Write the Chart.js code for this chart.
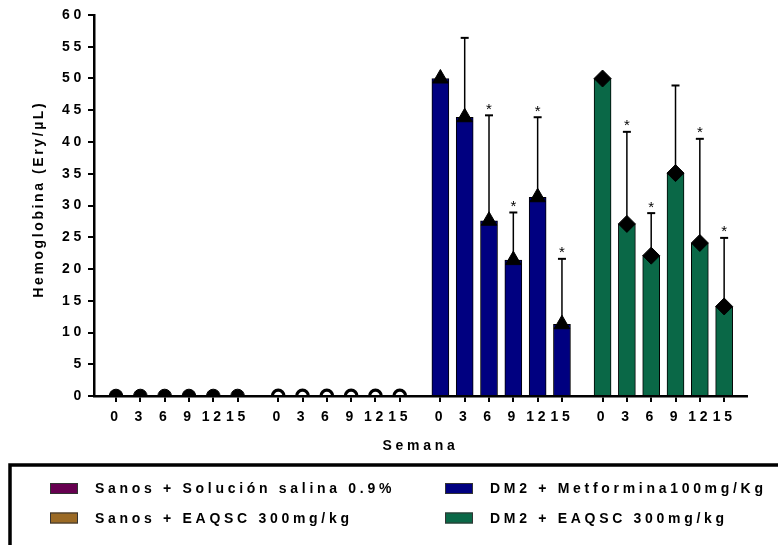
<!DOCTYPE html>
<html>
<head>
<meta charset="utf-8">
<script src="https://cdn.jsdelivr.net/npm/chart.js@4/dist/chart.umd.min.js"></script>
<style>
  html, body { margin: 0; padding: 0; background: #fff; }
  canvas { display: block; }
</style>
</head>
<body>
<canvas id="chart" width="778" height="545"></canvas>
<script>
// Weeks of treatment, shown under each bar
const weeks = ['0', '3', '6', '9', '12', '15'];

// Treatment groups
const groupNames = [
  'Sanos + Solución salina 0.9%',
  'Sanos + EAQSC 300mg/kg',
  'DM2 + Metformina100mg/Kg',
  'DM2 + EAQSC 300mg/kg'
];

// Hemoglobina (Ery/µL) means per week
const salina      = [0, 0, 0, 0, 0, 0];
const sanosEaqsc  = [0, 0, 0, 0, 0, 0];
const metformina  = [50, 43.9, 27.6, 21.4, 31.3, 11.3];
const dm2Eaqsc    = [50, 27.1, 22.1, 35.1, 24.1, 14.1];

// Upper error (SD) per week
const metforminaErr = [0, 12.5, 16.6, 7.5, 12.6, 10.3];
const dm2EaqscErr   = [0, 14.5, 6.7, 13.8, 16.4, 10.8];

// Significance marks (*)
const metforminaSig = [false, false, true, true, true, true];
const dm2EaqscSig   = [false, true, true, false, true, true];

// Y axis ticks
const yTicks = [0, 5, 10, 15, 20, 25, 30, 35, 40, 45, 50, 55, 60];

const yTitle = 'Hemoglobina (Ery/µL)';
const xTitle = 'Semana';

const FONT = "'Liberation Sans', Arial, sans-serif";
const LETTER_SPACING = '3.7px';
const GROUP_STRIDE = 6.67;   // spacing between the start of consecutive groups, in bar slots

const colors = ['#660050', '#9b6a25', '#000080', '#0a6847'];

const positions = g => weeks.map((_, i) => g * GROUP_STRIDE + i);
const allTicks = [0, 1, 2, 3].flatMap(positions);

function barSet(label, values, color, g, extra) {
  return Object.assign({
    type: 'bar',
    label,
    data: positions(g).map((x, i) => ({ x, y: values[i] })),
    backgroundColor: color,
    borderColor: '#000',
    borderWidth: 1,
    barThickness: 17,
    grouped: false,
    order: 3
  }, extra || {});
}

function markerSet(values, g, style) {
  return Object.assign({
    type: 'line',
    showLine: false,
    data: positions(g).map((x, i) => ({ x, y: values[i] })),
    pointBackgroundColor: '#000',
    pointBorderColor: '#000',
    pointBorderWidth: 1,
    order: 1
  }, style);
}

// Canvas letter spacing for all chart text
const spacingPlugin = {
  id: 'spacing',
  beforeLayout(chart) { chart.ctx.letterSpacing = LETTER_SPACING; },
  beforeDraw(chart) { chart.ctx.letterSpacing = LETTER_SPACING; }
};

// Upper error bars and significance asterisks
const errorBarPlugin = {
  id: 'errorBars',
  afterDatasetDraw(chart, args) {
    const ds = chart.data.datasets[args.index];
    if (!ds.errors) return;
    const { ctx, scales: { x, y } } = chart;
    ctx.save();
    ctx.letterSpacing = '0px';
    ctx.strokeStyle = '#000';
    ctx.fillStyle = '#000';
    ds.data.forEach((p, i) => {
      const e = ds.errors[i];
      const px = x.getPixelForValue(p.x);
      const base = y.getPixelForValue(p.y);
      const top = y.getPixelForValue(p.y + e);
      if (e > 0) {
        ctx.lineWidth = 1.5;
        ctx.beginPath();
        ctx.moveTo(px, base);
        ctx.lineTo(px, top);
        ctx.stroke();
        ctx.lineWidth = 2;
        ctx.beginPath();
        ctx.moveTo(px - 4, top);
        ctx.lineTo(px + 4, top);
        ctx.stroke();
      }
      if (ds.sig[i]) {
        ctx.font = '15px ' + FONT;
        ctx.textAlign = 'center';
        ctx.textBaseline = 'alphabetic';
        ctx.fillText('*', px, top - 1.5);
      }
    });
    ctx.restore();
  }
};

// Rotated y-axis title with its own tighter spacing
const yTitlePlugin = {
  id: 'yTitle',
  afterDraw(chart) {
    const ctx = chart.ctx;
    const area = chart.chartArea;
    ctx.save();
    ctx.letterSpacing = '2.6px';
    ctx.font = 'bold 14px ' + FONT;
    ctx.fillStyle = '#000';
    ctx.textAlign = 'center';
    ctx.textBaseline = 'middle';
    ctx.translate(39, (area.top + area.bottom) / 2 - 5);
    ctx.rotate(-Math.PI / 2);
    ctx.fillText(yTitle, 1.3, 0);
    ctx.restore();
  }
};

// Boxed legend in two columns below the axis
const boxLegendPlugin = {
  id: 'boxLegend',
  afterDraw(chart) {
    const ctx = chart.ctx;
    const bars = chart.data.datasets.filter(d => d.type === 'bar');
    ctx.save();
    ctx.lineWidth = 3.5;
    ctx.strokeStyle = '#000';
    ctx.strokeRect(10, 465, 800, 120);
    ctx.font = 'bold 14px ' + FONT;
    ctx.letterSpacing = LETTER_SPACING;
    ctx.textBaseline = 'middle';
    ctx.textAlign = 'left';
    bars.forEach((d, k) => {
      const col = Math.floor(k / 2), row = k % 2;
      const sx = 50 + col * 395;
      const cy = 488 + row * 29.5;
      ctx.fillStyle = d.backgroundColor;
      ctx.fillRect(sx, cy - 5, 28, 11);
      ctx.lineWidth = 1;
      ctx.strokeStyle = '#333';
      ctx.strokeRect(sx + 0.5, cy - 4.5, 27, 10);
      ctx.fillStyle = '#000';
      ctx.fillText(d.label, sx + 45, cy + 1.5);
    });
    ctx.restore();
  }
};

const axisFont = { family: FONT, size: 14, weight: 'bold' };

new Chart(document.getElementById('chart'), {
  type: 'bar',
  data: {
    datasets: [
      barSet(groupNames[0], salina, colors[0], 0),
      barSet(groupNames[1], sanosEaqsc, colors[1], 1),
      barSet(groupNames[2], metformina, colors[2], 2, { errors: metforminaErr, sig: metforminaSig }),
      barSet(groupNames[3], dm2Eaqsc, colors[3], 3, { errors: dm2EaqscErr, sig: dm2EaqscSig }),
      markerSet(salina, 0, { pointStyle: 'circle', pointRadius: 6.8 }),
      markerSet(sanosEaqsc, 1, { pointStyle: 'circle', pointRadius: 5.8, pointBackgroundColor: 'rgba(0,0,0,0)', pointBorderWidth: 3.2 }),
      markerSet(metformina, 2, { pointStyle: 'triangle', pointRadius: 9 }),
      markerSet(dm2Eaqsc, 3, { pointStyle: 'rectRot', pointRadius: 8.5 })
    ]
  },
  options: {
    responsive: false,
    animation: false,
    devicePixelRatio: 1,
    layout: { padding: { left: 0, top: 15, right: 31, bottom: 79 } },
    plugins: {
      legend: { display: false },
      tooltip: { enabled: false }
    },
    scales: {
      x: {
        type: 'linear',
        min: -0.905,
        max: 25.95,
        offset: false,
        afterBuildTicks: s => { s.ticks = allTicks.map(v => ({ value: v })); },
        afterFit: s => { s.height = 70; },
        ticks: {
          autoSkip: false,
          maxRotation: 0,
          minRotation: 0,
          padding: 7,
          color: '#000',
          font: axisFont,
          callback: (v, i) => weeks[i % weeks.length]
        },
        grid: { offset: false, drawOnChartArea: false, drawTicks: true, tickLength: 6, color: '#000', lineWidth: 2 },
        border: { display: true, color: '#000', width: 2.5 },
        title: { display: true, text: xTitle, color: '#000', font: axisFont, padding: { top: 0, bottom: 11.6 } }
      },
      y: {
        min: 0,
        max: 60,
        afterBuildTicks: s => { s.ticks = yTicks.map(v => ({ value: v })); },
        afterFit: s => { s.width = 94; },
        ticks: { padding: 3, color: '#000', font: axisFont },
        grid: { drawOnChartArea: false, drawTicks: true, tickLength: 6, color: '#000', lineWidth: 2 },
        border: { display: true, color: '#000', width: 2.5 },
        title: { display: false }
      }
    }
  },
  plugins: [spacingPlugin, errorBarPlugin, yTitlePlugin, boxLegendPlugin]
});
</script>
</body>
</html>
